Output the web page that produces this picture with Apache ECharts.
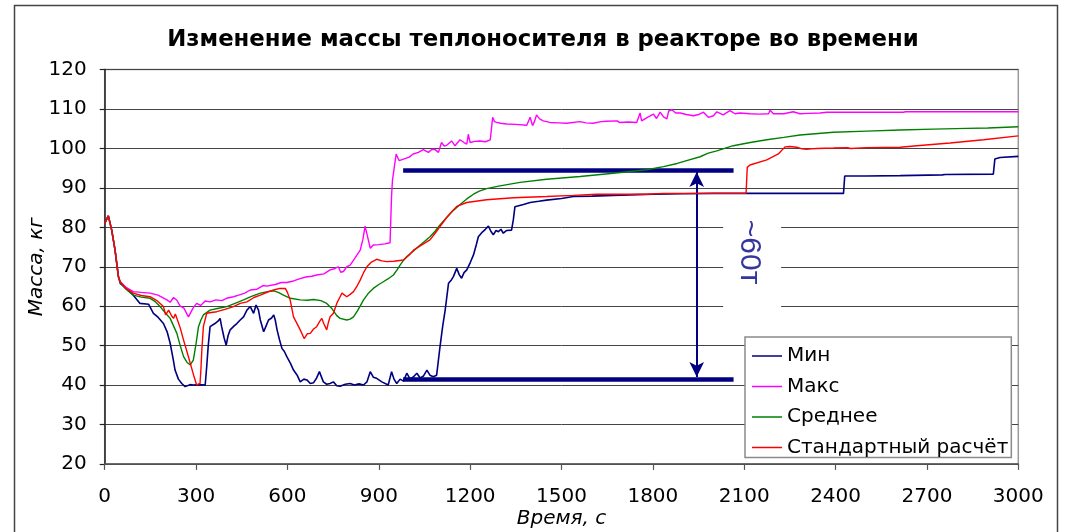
<!DOCTYPE html>
<html>
<head>
<meta charset="utf-8">
<script src="https://cdn.jsdelivr.net/npm/echarts@6/dist/echarts.min.js"></script>
<style>
  html, body { margin: 0; padding: 0; background: #fff; }
  #chart { width: 1068px; height: 532px; }
</style>
</head>
<body>
<div id="chart"></div>
<script>
// Coolant mass in the reactor over time: min / max / mean / reference run.
const seriesNames = ['Мин', 'Макс', 'Среднее', 'Стандартный расчёт'];

const minT = [0, 12, 23, 34, 45, 51, 70, 94, 116, 144, 160, 175, 193, 205, 215, 225, 231, 242, 253, 264,
  280, 291, 310, 330, 335, 340, 346, 362, 372, 379, 384, 392, 399, 405, 412, 425, 434, 445, 456, 467,
  478, 489, 497, 505, 511, 522, 530, 538, 548, 555, 560, 566, 574, 582, 590, 598, 610, 620, 632, 642,
  654, 664, 675, 686, 696, 705, 712, 718, 729, 740, 751, 762, 773, 790, 806, 820, 835, 850, 861, 872,
  882, 893, 910, 931, 942, 950, 959, 970, 981, 992, 1003, 1014, 1025, 1036, 1047, 1058, 1068, 1079, 1090, 1101,
  1110, 1118, 1129, 1137, 1145, 1156, 1164, 1172, 1180, 1189, 1200, 1211, 1220, 1227, 1240, 1250, 1260, 1268, 1276, 1285,
  1293, 1301, 1309, 1320, 1336, 1342, 1347, 1353, 1375, 1397, 1425, 1451, 1500, 1539, 1600, 1670, 1750, 1800, 1900, 2000,
  2100, 2200, 2300, 2426, 2430, 2500, 2612, 2750, 2760, 2918, 2923, 2940, 3000];
const minV = [81, 82.9, 79.3, 74.2, 67.5, 65.8, 64.5, 62.8, 60.7, 60.5, 58.2, 57.2, 55.6, 53.5, 50.6, 46.5, 43.8, 41.5, 40.4, 39.6,
  40.1, 40.0, 40.1, 40.0, 44.7, 50, 54.8, 55.6, 56.2, 56.9, 54.8, 52, 50.1, 52.5, 54, 55, 55.6, 56.5, 57.3, 59,
  59.9, 58.2, 60.3, 59, 56.5, 53.5, 55, 56.5, 57, 57.8, 56.5, 54, 51.5, 49.3, 48.5, 47.2, 45.5, 43.8, 42.5, 40.8,
  41.5, 41.3, 40.4, 40.6, 41.8, 43.4, 42, 40.8, 40.2, 40.4, 40.8, 39.8, 39.7, 40.2, 40.4, 40.0, 40.3, 40.0, 40.8, 43.4,
  42.0, 41.7, 40.8, 40.0, 43.4, 41.5, 40.4, 41.5, 41.0, 43.0, 41.5, 42.1, 43.0, 41.8, 42.3, 43.8, 42.5, 42.1, 42.5, 49.7,
  55, 59, 65.8, 66.5, 67.5, 69.6, 68, 67.1, 68.5, 69.2, 71, 73, 75.5, 77.6, 78.8, 79.5, 80.3, 79, 78.1, 79.2,
  78.9, 79.5, 78.5, 79.2, 79.3, 82, 85.2, 85.4, 85.8, 86.3, 86.6, 86.9, 87.3, 87.8, 87.9, 88.1, 88.3, 88.4, 88.5, 88.6,
  88.6, 88.6, 88.6, 88.6, 93.0, 93.0, 93.1, 93.3, 93.4, 93.5, 97.3, 97.7, 98.0];

const maxT = [0, 12, 23, 34, 45, 51, 70, 94, 120, 149, 175, 204, 215, 226, 237, 248, 260, 275, 290, 302,
  315, 330, 346, 365, 385, 400, 423, 440, 460, 478, 500, 520, 532, 560, 580, 598, 620, 642, 660, 680,
  696, 720, 740, 755, 767, 775, 784, 795, 806, 820, 839, 848, 855, 862, 872, 882, 900, 920, 937, 942,
  945, 950, 957, 967, 981, 1000, 1013, 1030, 1046, 1063, 1075, 1085, 1096, 1106, 1115, 1123, 1139, 1150, 1167, 1180,
  1189, 1194, 1200, 1215, 1232, 1250, 1266, 1274, 1280, 1287, 1300, 1320, 1350, 1386, 1397, 1405, 1412, 1418, 1428, 1440,
  1462, 1490, 1517, 1561, 1580, 1604, 1630, 1648, 1683, 1690, 1720, 1747, 1758, 1763, 1769, 1785, 1802, 1812, 1824, 1835,
  1846, 1852, 1862, 1875, 1890, 1910, 1933, 1950, 1966, 1982, 1999, 2010, 2031, 2053, 2070, 2086, 2119, 2150, 2180, 2185,
  2196, 2230, 2261, 2283, 2310, 2349, 2371, 2450, 2622, 2630, 3000];
const maxV = [81, 82.9, 79.3, 74.2, 67.5, 66.2, 64.8, 63.7, 63.5, 63.3, 62.8, 61.6, 61, 62.2, 61.5, 60, 59.5, 57.3, 59.5, 60.7,
  60.2, 61.3, 61.1, 61.6, 61.4, 62, 62.4, 62.8, 63.3, 64.1, 64.3, 65.2, 65.1, 65.5, 66, 66, 66.4, 67, 67.4, 67.6,
  67.9, 68.2, 69.2, 69.5, 70, 68.6, 68.8, 70, 70.4, 72, 74.2, 77, 80.3, 78, 74.7, 75.5, 75.6, 75.8, 76.1, 88,
  92, 94.7, 98.6, 96.9, 97.3, 97.8, 98.6, 99, 99.7, 99, 99.8, 99.7, 99, 101.5, 100.6, 100.8, 101.9, 100.7, 102.2, 101.5,
  101.1, 103.6, 101.5, 101.8, 101.9, 101.7, 102.2, 107.9, 106.8, 106.6, 106.4, 106.2, 106.1, 105.9, 107.9, 105.8, 107, 108.5, 107.5, 107,
  106.6, 106.5, 106.4, 106.8, 106.5, 106.4, 106.8, 106.9, 107, 106.6, 106.7, 106.6, 109, 107, 107, 108, 108.7, 107.6, 109.2, 108,
  107.5, 109.5, 109.8, 109, 109, 108.6, 108.3, 108.6, 109.2, 107.9, 108.3, 109.3, 108.5, 109.6, 108.8, 109, 108.8, 108.7, 108.8, 109.7,
  108.8, 108.8, 109.3, 108.8, 108.9, 109, 109.2, 109.2, 109.2, 109.3, 109.3];

const avgT = [0, 12, 23, 34, 45, 51, 70, 94, 120, 149, 165, 182, 200, 215, 226, 237, 248, 259, 270, 281,
  291, 300, 308, 316, 324, 346, 370, 401, 430, 456, 480, 511, 535, 555, 570, 587, 610, 642, 665, 686,
  710, 729, 745, 762, 773, 795, 806, 817, 830, 850, 865, 882, 900, 915, 930, 948, 960, 970, 981, 992,
  1014, 1036, 1050, 1068, 1085, 1101, 1117, 1145, 1167, 1189, 1211, 1230, 1254, 1298, 1364, 1451, 1561, 1670, 1780, 1835,
  1880, 1911, 1955, 1982, 2010, 2064, 2120, 2174, 2230, 2283, 2393, 2502, 2612, 2721, 2831, 2900, 3000];
const avgV = [81, 82.9, 79.3, 74.2, 67.5, 66, 64.3, 62.8, 62.3, 62, 61.2, 59.9, 58.2, 56.9, 55, 53.1, 50, 47.2, 45.8, 45.1,
  46.3, 50.5, 54.8, 56.5, 57.8, 59, 59.4, 59.9, 60.8, 61.6, 62.4, 63.3, 63.7, 63.9, 63.5, 62.8, 62, 61.6, 61.5, 61.7,
  61.4, 60.7, 59.5, 57.6, 56.9, 56.5, 56.7, 57.3, 58.8, 61.6, 63.2, 64.5, 65.5, 66.2, 66.9, 67.9, 69.2, 70.4, 71.6, 72.6,
  74, 75.5, 76.4, 77.6, 79, 80.6, 82, 84.3, 85.8, 87.2, 88.4, 89.2, 89.8, 90.5, 91.4, 92.2, 92.9, 93.7, 94.6, 95.4,
  96.2, 96.9, 97.9, 98.8, 99.4, 100.7, 101.5, 102.2, 102.8, 103.4, 104.1, 104.4, 104.7, 104.9, 105.1, 105.2, 105.5];

const stdT = [0, 12, 23, 34, 45, 51, 70, 94, 120, 149, 170, 193, 200, 210, 215, 220, 226, 232, 237, 248,
  259, 270, 281, 292, 302, 313, 316, 319, 324, 335, 350, 368, 395, 423, 445, 467, 490, 511, 535, 555,
  575, 593, 600, 609, 620, 632, 642, 655, 665, 675, 686, 696, 705, 713, 720, 729, 735, 740, 751, 762,
  773, 779, 795, 806, 817, 828, 839, 850, 861, 876, 893, 910, 926, 950, 981, 1000, 1014, 1040, 1068, 1085,
  1101, 1123, 1134, 1156, 1189, 1254, 1342, 1451, 1539, 1615, 1780, 1835, 2106, 2110, 2119, 2174, 2212, 2234, 2250, 2272,
  2290, 2305, 2320, 2338, 2393, 2440, 2450, 2502, 2612, 2667, 2776, 2886, 3000];
const stdV = [81, 82.9, 79.3, 74.2, 67.5, 66.2, 64.5, 63.3, 62.7, 62.4, 61.5, 59.9, 57.8, 59, 59.2, 57.5, 56.9, 58, 57.8, 54.5,
  51.4, 48.5, 45.5, 42.5, 40, 40.4, 44, 48.9, 54.8, 58.2, 58.4, 58.6, 59.2, 59.9, 60.7, 61.1, 62.2, 62.8, 63.6, 64.1,
  64.5, 64.5, 63.5, 61.6, 57.3, 55.5, 54, 51.8, 53, 53.1, 54.2, 54.8, 56, 56.9, 55.5, 54, 56, 57.3, 58.2, 60.7,
  62.4, 63.3, 62.4, 63, 63.7, 65, 66.6, 68.5, 70, 71.2, 71.9, 71.5, 71.3, 71.4, 71.7, 73, 74.2, 75.5, 76.8, 78.5,
  80.2, 82.5, 83.5, 85.3, 86.3, 87, 87.5, 87.8, 88.1, 88.4, 88.4, 88.6, 88.6, 95.2, 95.8, 97.1, 98.6, 100.4, 100.5, 100.3,
  99.9, 99.8, 99.9, 100, 100.1, 100.2, 100.0, 100.2, 100.3, 100.7, 101.4, 102.2, 103.2];

// Bracket showing the ~60 kg spread between the envelopes
const spreadHigh = 94.6;
const spreadLow = 41.5;
const spreadFrom = 980;
const spreadTo = 2065;
const spreadAt = 1944;
const spreadText = '~60т';

const xTicks = { min: 0, max: 3000, step: 300 };
const yTicks = { min: 20, max: 120, step: 10 };

function pairs(ts, vs) {
  return ts.map((t, i) => [t, vs[i]]);
}

const FONT = 'DejaVu Sans';
const colors = ['#000080', '#ff00ff', '#008000', '#ff0000'];
const widths = [1.6, 1.4, 1.4, 1.4];
const data = [pairs(minT, minV), pairs(maxT, maxV), pairs(avgT, avgV), pairs(stdT, stdV)];

const series = seriesNames.map((name, i) => ({
  name: name,
  type: 'line',
  data: data[i],
  showSymbol: false,
  symbol: 'none',
  color: colors[i],
  lineStyle: { color: colors[i], width: widths[i] },
  animation: false,
  silent: true,
  z: 3 + i
}));

const navy = '#000080';
series.push({
  name: 'bracket',
  type: 'line',
  data: [],
  silent: true,
  animation: false,
  z: 8,
  markLine: {
    silent: true,
    animation: false,
    symbol: 'none',
    label: { show: false },
    emphasis: { disabled: true },
    data: [
      [{ coord: [spreadFrom, spreadHigh], lineStyle: { color: navy, width: 4.5, type: 'solid' } },
       { coord: [spreadTo, spreadHigh] }],
      [{ coord: [spreadFrom, spreadLow], lineStyle: { color: navy, width: 4.5, type: 'solid' } },
       { coord: [spreadTo, spreadLow] }],
      [{ coord: [spreadAt, spreadHigh - 0.6], symbol: 'arrow', symbolSize: [11, 15],
         lineStyle: { color: navy, width: 2, type: 'solid' } },
       { coord: [spreadAt, spreadLow + 0.55], symbol: 'arrow', symbolSize: [11, 15] }]
    ]
  },
  markPoint: {
    silent: true,
    animation: false,
    data: [
      { coord: [2126, 69.4], symbol: 'rect', symbolSize: [58, 138],
        itemStyle: { color: '#ffffff' }, label: { show: false } },
      { coord: [2117, 73.7], symbol: 'rect', symbolSize: [1, 1],
        itemStyle: { color: 'rgba(255,255,255,0)' },
        label: { show: true, position: 'inside', formatter: spreadText, rotate: -90,
                 fontSize: 30, color: '#35359f', fontFamily: 'Liberation Sans' } }
    ]
  }
});

const chart = echarts.init(document.getElementById('chart'), null, { renderer: 'canvas' });
chart.setOption({
  animation: false,
  backgroundColor: '#ffffff',
  textStyle: { fontFamily: FONT },
  title: {
    text: 'Изменение массы теплоносителя в реакторе во времени',
    left: 538,
    textAlign: 'center',
    top: 24,
    textStyle: { fontFamily: FONT, fontWeight: 'bold', fontSize: 22.8, color: '#000' }
  },
  graphic: [{
    type: 'rect',
    shape: { x: 14.5, y: 5.5, width: 1043, height: 600 },
    style: { fill: 'none', stroke: '#444', lineWidth: 1.5 },
    silent: true,
    z: 100
  }],
  grid: {
    left: 104.7, right: 49.7, top: 69.6, bottom: 68.1,
    show: true, borderColor: '#9a9a9a', borderWidth: 1.5,
    containLabel: false,
    outerBoundsMode: 'none'
  },
  legend: {
    data: seriesNames,
    orient: 'vertical',
    left: 745,
    top: 337,
    padding: [9, 3, 0, 7],
    itemGap: 10.5,
    itemWidth: 30,
    itemHeight: 1.5,
    icon: 'rect',
    backgroundColor: '#ffffff',
    borderColor: '#8a8a8a',
    borderWidth: 1.5,
    selectedMode: false,
    textStyle: { fontFamily: FONT, fontSize: 20, color: '#000', lineHeight: 20 },
    z: 6
  },
  xAxis: {
    type: 'value',
    min: xTicks.min, max: xTicks.max, interval: xTicks.step,
    name: 'Время, с',
    nameLocation: 'middle',
    nameGap: 45,
    nameMoveOverlap: false,
    nameTextStyle: { fontFamily: FONT, fontStyle: 'italic', fontSize: 20, color: '#000' },
    axisLine: { show: true, onZero: false, lineStyle: { color: '#555', width: 1.5 } },
    axisTick: { show: true, length: 6, lineStyle: { color: '#555', width: 1.2 } },
    axisLabel: { margin: 23, fontFamily: FONT, fontSize: 20, color: '#000',
                 formatter: v => String(v) },
    splitLine: { show: false }
  },
  yAxis: {
    type: 'value',
    min: yTicks.min, max: yTicks.max, interval: yTicks.step,
    name: 'Масса, кг',
    nameLocation: 'middle',
    nameGap: 58,
    nameMoveOverlap: false,
    nameRotate: 90,
    nameTextStyle: { fontFamily: FONT, fontStyle: 'italic', fontSize: 20, color: '#000' },
    axisLine: { show: true, onZero: false, lineStyle: { color: '#222', width: 1.5 } },
    axisTick: { show: true, length: 5, lineStyle: { color: '#222', width: 1.2 } },
    axisLabel: { margin: 18, fontFamily: FONT, fontSize: 20, color: '#000',
                 formatter: v => String(v) },
    splitLine: { show: true, lineStyle: { color: '#444', width: 1 } }
  },
  series: series
});
</script>
</body>
</html>
